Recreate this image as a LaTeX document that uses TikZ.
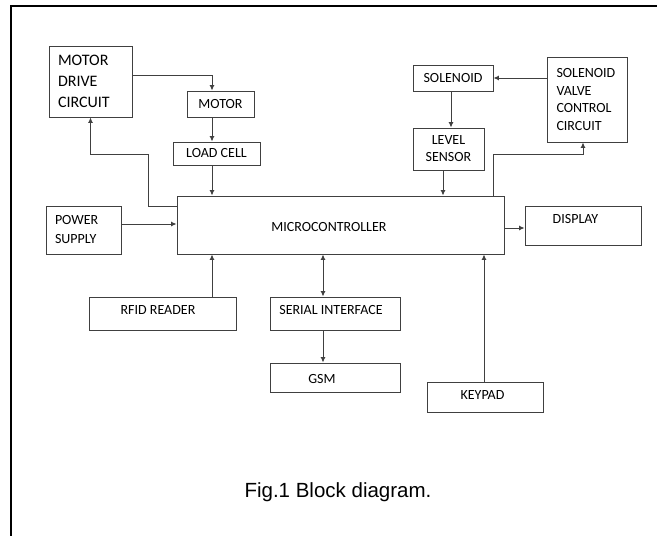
\documentclass[tikz,border=0pt]{standalone}
\usepackage{fontspec}
\setmainfont{Carlito}
\newfontfamily\capfont{Liberation Sans}
\usetikzlibrary{arrows.meta,positioning}

\tikzset{
  blk/.style={draw=black!75, line width=0.9pt, inner sep=0pt, font=\fontsize{14}{17}\selectfont},
  arr/.style={draw=black!75, line width=0.9pt, -{Latex[length=5.5pt,width=5pt]}},
  dblarr/.style={draw=black!75, line width=0.9pt, {Latex[length=5.5pt,width=5pt]}-{Latex[length=5.5pt,width=5pt]}},
  txt/.style={inner sep=0pt, font=\fontsize{14}{17}\selectfont},
}

\begin{document}
\begin{tikzpicture}[x=1pt,y=-1pt]
        \useasboundingbox (0,0) rectangle (657,536);
        % basics
        \begin{scope}
            \clip (0,0) rectangle (657,536);
            \draw[line width=1.8pt] (11,560) -- (11,6) -- (690,6);
        \end{scope}
        
        % blocks
        \node[blk, minimum width=83pt, minimum height=71pt, text width=65pt, align=left, font=\fontsize{16}{21}\selectfont] (mdc) at (90.5,81.5) {MOTOR\\DRIVE\\CIRCUIT};
        \node[blk, minimum width=67pt, minimum height=26pt] (motor) at (220.5,104) {MOTOR};
        \node[blk, minimum width=87pt, minimum height=23pt] (loadcell) at (216.5,153.5) {LOAD CELL};
        \node[blk, minimum width=75pt, minimum height=48pt, text width=57pt, align=left, font=\fontsize{14}{19}\selectfont] (ps) at (83.5,230) {POWER\\SUPPLY};
        \node[blk, minimum width=327pt, minimum height=58pt] (mcu) at (340.5,225) {};
        \node[txt] (mcutxt) at (329,227) {MICROCONTROLLER};
        \node[blk, minimum width=80pt, minimum height=26pt] (solenoid) at (453,78) {SOLENOID};
        \node[blk, minimum width=80pt, minimum height=85pt, text width=61pt, align=left, font=\fontsize{14}{17.7}\selectfont] (svcc) at (587,99.5) {SOLENOID\\VALVE\\CONTROL\\CIRCUIT};
        \node[blk, minimum width=71pt, minimum height=42pt, align=center] (level) at (448.5,149) {LEVEL\\SENSOR};
        \node[blk, minimum width=116pt, minimum height=39pt] (disp) at (583,225.5) {};
        \node[txt] (disptxt) at (575.5,219) {DISPLAY};
        \node[blk, minimum width=147pt, minimum height=33pt] (rfid) at (162.5,313.5) {};
        \node[txt] (rfidtxt) at (158,310) {RFID READER};
        \node[blk, minimum width=130pt, minimum height=33pt] (serial) at (335,313.5) {};
        \node[txt] (serialtxt) at (331,310) {SERIAL INTERFACE};
        \node[blk, minimum width=130pt, minimum height=29pt] (gsm) at (335,377.5) {};
        \node[txt] (gsmtxt) at (322,379) {GSM};
        \node[blk, minimum width=116pt, minimum height=30pt] (keypad) at (485,397) {};
        \node[txt] (keypadtxt) at (482.5,395.5) {KEYPAD};
        
        % columns and rows for the connectors
        \coordinate (xl) at (212,0);
        \coordinate (xs) at (323,0);
        \coordinate (xv) at (451,0);
        \coordinate (xm) at (443,0);
        \coordinate (xo) at (493,0);
        \coordinate (xw) at (148,0);
        \coordinate (yb) at (0,154);
        
        % connectors
        %% motor side
        \draw[arr] ([yshift=6.5pt]mdc.east) -| (xl |- motor.north);
        \draw[arr] (xl |- motor.south) -- (xl |- loadcell.north);
        \draw[arr] (xl |- loadcell.south) -- (xl |- mcu.north);
        \draw[arr] ([yshift=19pt]mcu.west) -| (xw |- yb) -| (mdc.south);
        
        %% solenoid side
        \draw[arr] (svcc.west |- solenoid.east) -- (solenoid.east);
        \draw[arr] (xv |- solenoid.south) -- (xv |- level.north);
        \draw[arr] (xm |- level.south) -- (xm |- mcu.north);
        \draw[arr] (xo |- mcu.north) -- (xo |- yb) -| ([xshift=-4pt]svcc.south);
        
        %% inputs and outputs
        \draw[arr] ([yshift=6pt]ps.east) -- ([yshift=6pt]ps.east -| mcu.west);
        \draw[arr] ([yshift=-3pt]mcu.east) -- ([yshift=-3pt]mcu.east -| disp.west);
        \draw[arr] (xl |- rfid.north) -- (xl |- mcu.south);
        \draw[dblarr] (xs |- mcu.south) -- (xs |- serial.north);
        \draw[arr] (xs |- serial.south) -- (xs |- gsm.north);
        \draw[arr] ([xshift=-1pt]keypad.north) -- ([xshift=-1pt]keypad.north |- mcu.south);
        
        % caption
        \node[font=\capfont\fontsize{20.5}{23}\selectfont] (cap) at (338,492) {Fig.1 Block diagram.};
\end{tikzpicture}
\end{document}
